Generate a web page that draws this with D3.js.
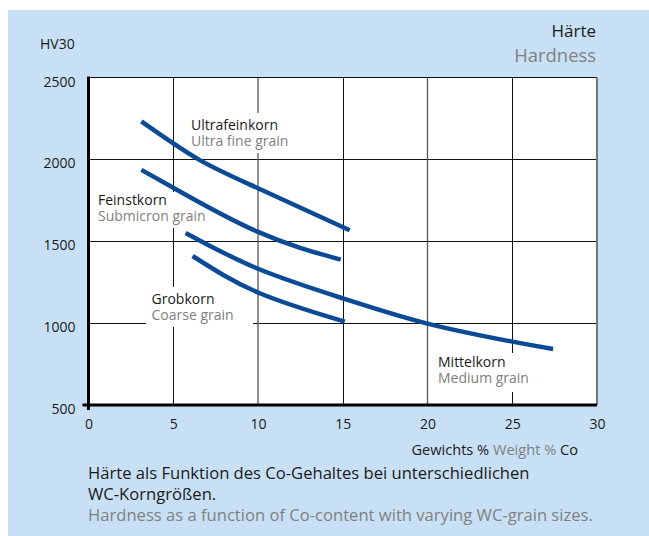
<!DOCTYPE html>
<html><head><meta charset="utf-8">
<script src="https://cdn.jsdelivr.net/npm/d3@7"></script>
<style>
html,body{margin:0;padding:0;background:#fff;}
svg{display:block;font-family:"Open Sans",sans-serif;}
</style></head>
<body>
<svg id="chart" width="649" height="536"></svg>
<script>
// ---- data ----
const xTicks = [0, 5, 10, 15, 20, 25, 30];
const yTicks = [500, 1000, 1500, 2000, 2500];

const ultraX = [3.12, 6.49, 10, 15.41];
const ultraY = [2232, 2000, 1824, 1567];

const feinstX = [3.12, 5, 10, 14.88];
const feinstY = [1936, 1827, 1557, 1388];

const mittelX = [5.73, 10, 15.05, 20, 25, 27.41];
const mittelY = [1551, 1332, 1150, 997, 887, 842];

const grobX = [6.14, 10, 15.12];
const grobY = [1410, 1187, 1009];

const seriesNames = ["Ultrafeinkorn", "Feinstkorn", "Mittelkorn", "Grobkorn"];
const seriesNamesEn = ["Ultra fine grain", "Submicron grain", "Medium grain", "Coarse grain"];

// ---- drawing ----
const svg = d3.select("#chart");
const blue = "#0b4b95";
const grayText = "#808080";
const dark = "#1a1a1a";

svg.append("rect").attr("x", 8).attr("y", 10).attr("width", 641).attr("height", 526).attr("fill", "#c8e0f5");

const x = d3.scaleLinear().domain([0, 30]).range([88.5, 597]);
const y = d3.scaleLinear().domain([500, 2500]).range([405, 77.5]);

svg.append("rect").attr("x", x(0)).attr("y", y(2500)).attr("width", x(30) - x(0)).attr("height", y(500) - y(2500)).attr("fill", "#fff");

// horizontal grid
const g = svg.append("g");
g.selectAll("line.h").data(yTicks.filter(d => d > 500 && d < 2500)).join("line")
  .attr("x1", x(0)).attr("x2", x(30)).attr("y1", d => Math.round(y(d)) + 0.5).attr("y2", d => Math.round(y(d)) + 0.5)
  .attr("stroke", "#111").attr("stroke-width", 1);
// vertical grid
g.selectAll("line.v").data(xTicks.filter(d => d > 0 && d < 30)).join("line")
  .attr("x1", d => d % 10 === 0 ? x(d) : Math.round(x(d)) + 0.5)
  .attr("x2", d => d % 10 === 0 ? x(d) : Math.round(x(d)) + 0.5)
  .attr("y1", y(2500)).attr("y2", y(500))
  .attr("stroke", d => d % 10 === 0 ? "#555" : "#111")
  .attr("stroke-width", d => d % 10 === 0 ? 1.3 : 1);
// top border
svg.append("line").attr("x1", x(0)).attr("x2", x(30)).attr("y1", y(2500)).attr("y2", y(2500)).attr("stroke", "#111").attr("stroke-width", 1.2);
// right border
svg.append("line").attr("x1", x(30)).attr("x2", x(30)).attr("y1", y(2500)).attr("y2", y(500)).attr("stroke", "#777").attr("stroke-width", 2);

// label boxes (white) hiding grid
const labelPos = [
  {tx: 191, ty: 130, box: [185, 113, 300, 153]},
  {tx: 98, ty: 205, box: [92, 192, 212, 228]},
  {tx: 438, ty: 367, box: [432, 353, 540, 392]},
  {tx: 151.5, ty: 304, box: [146, 287, 253, 327]}
];
svg.selectAll("rect.lb").data(labelPos).join("rect")
  .attr("x", d => d.box[0]).attr("y", d => d.box[1])
  .attr("width", d => d.box[2] - d.box[0]).attr("height", d => d.box[3] - d.box[1])
  .attr("fill", "#fff");

// axes
const xAxis = d3.axisBottom(x).tickValues(xTicks).tickSize(0).tickPadding(0);
const ax = svg.append("g").attr("transform", `translate(0,${y(500)})`).call(xAxis);
ax.select(".domain").remove();
ax.selectAll("text").attr("y", 24).attr("dy", null).attr("font-size", 14).attr("fill", dark)
  .attr("font-family", '"Open Sans",sans-serif');

const yAxis = d3.axisLeft(y).tickValues(yTicks).tickFormat(d3.format("d")).tickSize(0).tickPadding(0);
const ay = svg.append("g").attr("transform", `translate(${x(0)},0)`).call(yAxis);
ay.select(".domain").remove();
ay.selectAll("text").attr("x", -13).attr("dy", null).attr("y", 8.5).attr("font-size", 14).attr("fill", dark)
  .attr("font-family", '"Open Sans",sans-serif');

// thick axis lines
svg.append("line").attr("x1", x(0)).attr("x2", x(0)).attr("y1", y(2500) - 1).attr("y2", y(500) + 5).attr("stroke", "#000").attr("stroke-width", 3);
svg.append("line").attr("x1", x(0) - 6).attr("x2", x(30)).attr("y1", y(500)).attr("y2", y(500)).attr("stroke", "#000").attr("stroke-width", 3);

// curves
const seriesX = [ultraX, feinstX, mittelX, grobX];
const seriesY = [ultraY, feinstY, mittelY, grobY];
const line = d3.line().x(d => x(d[0])).y(d => y(d[1])).curve(d3.curveNatural);
svg.selectAll("path.curve").data(seriesX.map((xs, i) => xs.map((v, j) => [v, seriesY[i][j]]))).join("path")
  .attr("d", line).attr("fill", "none").attr("stroke", blue).attr("stroke-width", 4.5);

// curve labels
labelPos.forEach((p, i) => {
  svg.append("text").attr("x", p.tx).attr("y", p.ty).attr("font-size", 14).attr("fill", dark).text(seriesNames[i]);
  svg.append("text").attr("x", p.tx).attr("y", p.ty + 16).attr("font-size", 14).attr("fill", grayText).text(seriesNamesEn[i]);
});

// titles
svg.append("text").attr("x", 40).attr("y", 49).attr("font-size", 14).attr("fill", dark).text("HV30");
svg.append("text").attr("x", 596).attr("y", 37).attr("text-anchor", "end").attr("font-size", 17).attr("fill", dark).text("Härte");
svg.append("text").attr("x", 596).attr("y", 62).attr("text-anchor", "end").attr("font-size", 18.4).attr("fill", grayText).text("Hardness");

const xt = svg.append("text").attr("x", 578).attr("y", 455).attr("text-anchor", "end").attr("font-size", 14.6);
xt.append("tspan").attr("fill", dark).text("Gewichts % ");
xt.append("tspan").attr("fill", grayText).text("Weight % ");
xt.append("tspan").attr("fill", dark).text("Co");

// caption
svg.append("text").attr("x", 88).attr("y", 479).attr("font-size", 16.6).attr("fill", dark).text("Härte als Funktion des Co-Gehaltes bei unterschiedlichen");
svg.append("text").attr("x", 88).attr("y", 500).attr("font-size", 16.6).attr("fill", dark).text("WC-Korngrößen.");
svg.append("text").attr("x", 88).attr("y", 521).attr("font-size", 16.6).attr("fill", grayText).text("Hardness as a function of Co-content with varying WC-grain sizes.");
</script>
</body></html>
